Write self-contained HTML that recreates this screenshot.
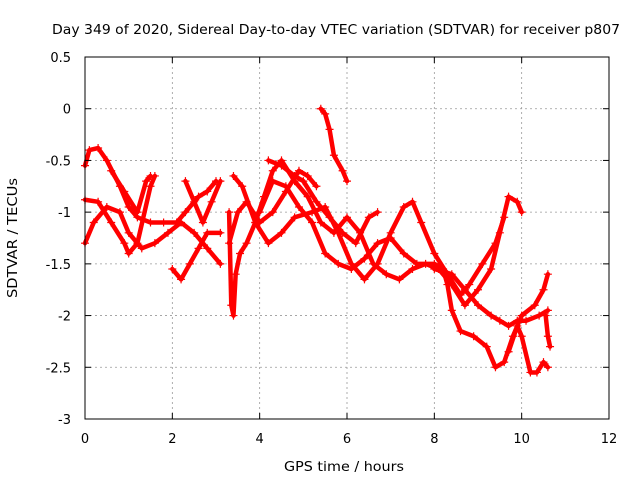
<!DOCTYPE html>
<html><head><meta charset="utf-8"><style>
body{margin:0;background:#fff;}
svg{font-family:"DejaVu Sans","Liberation Sans",sans-serif;font-size:13px;}
</style></head><body>
<svg id="chart" width="640" height="480">
<rect width="640" height="480" fill="#fff"/>
<g id="grid"></g>
<g id="series"></g>
<rect x="85" y="57" width="524" height="362" fill="none" stroke="#000" stroke-width="1"/>
<g id="ticks"></g>
<text x="336" y="34" text-anchor="middle" textLength="568" lengthAdjust="spacingAndGlyphs">Day 349 of 2020, Sidereal Day-to-day VTEC variation (SDTVAR) for receiver p807</text>
<text x="344" y="471" text-anchor="middle" textLength="120" lengthAdjust="spacingAndGlyphs">GPS time / hours</text>
<text x="0" y="0" text-anchor="middle" textLength="120" lengthAdjust="spacingAndGlyphs" transform="translate(17,238) rotate(-90)">SDTVAR / TECUs</text>
</svg>
<script>
const xTicks=[0,2,4,6,8,10,12];
const yTicks=[0.5,0,-0.5,-1,-1.5,-2,-2.5,-3];
const tracks=[
[[0,-0.55],[0.1,-0.4],[0.3,-0.38],[0.5,-0.5],[0.8,-0.75],[1.0,-0.95],[1.2,-1.05],[1.5,-1.1],[1.8,-1.1],[2.1,-1.1],[2.3,-1.0],[2.6,-0.85],[2.8,-0.8],[3.0,-0.7]],
[[0,-1.3],[0.2,-1.1],[0.5,-0.95],[0.8,-1.0],[1.0,-1.2],[1.3,-1.35],[1.6,-1.3],[1.9,-1.2],[2.2,-1.1],[2.5,-1.2],[2.8,-1.35],[3.1,-1.5]],
[[0,-0.88],[0.3,-0.9],[0.6,-1.1],[0.9,-1.3],[1.0,-1.4],[1.2,-1.3],[1.5,-0.75],[1.6,-0.65]],
[[0.6,-0.6],[0.9,-0.8],[1.2,-1.0],[1.4,-0.7],[1.5,-0.65]],
[[2.0,-1.55],[2.2,-1.65],[2.4,-1.5],[2.6,-1.35],[2.8,-1.2],[3.1,-1.2]],
[[2.3,-0.7],[2.5,-0.9],[2.7,-1.1],[2.9,-0.9],[3.1,-0.7]],
[[3.3,-1.0],[3.35,-1.9],[3.4,-2.0],[3.45,-1.6],[3.55,-1.4],[3.7,-1.3],[3.9,-1.1],[4.1,-0.85],[4.3,-0.6],[4.5,-0.5],[4.8,-0.7],[5.1,-0.85],[5.4,-1.1],[5.7,-1.2],[6.0,-1.05],[6.3,-1.2],[6.6,-1.5],[6.9,-1.6],[7.2,-1.65],[7.5,-1.55],[7.8,-1.5],[8.1,-1.55],[8.4,-1.7],[8.7,-1.9],[9.0,-1.75],[9.3,-1.55],[9.5,-1.2],[9.7,-0.85],[9.9,-0.9],[10.0,-1.0]],
[[3.3,-1.3],[3.5,-1.0],[3.7,-0.9],[4.0,-1.1],[4.3,-1.0],[4.6,-0.8],[4.9,-0.6],[5.1,-0.65],[5.3,-0.75]],
[[3.4,-0.65],[3.6,-0.75],[3.9,-1.1],[4.2,-1.3],[4.5,-1.2],[4.8,-1.05],[5.2,-1.0],[5.5,-0.95],[5.8,-1.2],[6.1,-1.5],[6.4,-1.65],[6.7,-1.5],[7.0,-1.2],[7.3,-0.95],[7.5,-0.9],[7.7,-1.1],[8.0,-1.4],[8.3,-1.6],[8.6,-1.8],[8.8,-1.7],[9.1,-1.5],[9.4,-1.3],[9.6,-1.05]],
[[5.4,0.0],[5.5,-0.05],[5.6,-0.2],[5.7,-0.45],[5.9,-0.6],[6.0,-0.7]],
[[4.2,-0.5],[4.5,-0.55],[4.8,-0.65],[5.0,-0.7],[5.3,-0.9],[5.6,-1.05],[5.9,-1.2],[6.2,-1.3],[6.5,-1.05],[6.7,-1.0]],
[[4.0,-1.0],[4.3,-0.7],[4.6,-0.75],[4.9,-0.95],[5.2,-1.1],[5.5,-1.4],[5.8,-1.5],[6.1,-1.55],[6.4,-1.45],[6.7,-1.3],[7.0,-1.25],[7.3,-1.4],[7.6,-1.5],[8.0,-1.5],[8.2,-1.55],[8.3,-1.7],[8.4,-1.95],[8.6,-2.15],[8.9,-2.2],[9.2,-2.3],[9.4,-2.5],[9.6,-2.45],[9.8,-2.2],[10.0,-2.0],[10.3,-1.9],[10.5,-1.75],[10.6,-1.6]],
[[8.0,-1.55],[8.4,-1.6],[8.7,-1.75],[9.0,-1.9],[9.3,-2.0],[9.5,-2.05],[9.7,-2.1],[9.9,-2.05],[10.1,-2.05],[10.4,-2.0],[10.6,-1.95]],
[[9.7,-2.35],[9.9,-2.1],[10.0,-2.2],[10.2,-2.55],[10.35,-2.55],[10.5,-2.45],[10.6,-2.5]],
[[10.55,-2.0],[10.6,-2.2],[10.65,-2.3]]
];
const NS="http://www.w3.org/2000/svg";
const X0=85,X1=609,Y0=419,Y1=57;
function sx(v){return X0+(v-0)/(12-0)*(X1-X0);}
function sy(v){return Y0-(v-(-3))/(0.5-(-3))*(Y0-Y1);}
function mk(tag,attrs,parent){const e=document.createElementNS(NS,tag);for(const k in attrs)e.setAttribute(k,attrs[k]);parent.appendChild(e);return e;}
const grid=document.getElementById('grid'),ticks=document.getElementById('ticks'),series=document.getElementById('series');
xTicks.forEach(t=>{
  const x=sx(t);
  if(t>0&&t<12){const g=mk('line',{x1:x,x2:x,y1:Y0,y2:Y1,stroke:'#999','stroke-dasharray':'2,3','stroke-width':0.8},grid);
  
  }
  mk('line',{x1:x,x2:x,y1:Y0,y2:Y0-6,stroke:'#000'},ticks);
  mk('line',{x1:x,x2:x,y1:Y1,y2:Y1+6,stroke:'#000'},ticks);
  const l=mk('text',{x:x,y:Y0+24,'text-anchor':'middle'},ticks);l.textContent=t;
  
  
});
yTicks.forEach(t=>{
  const y=sy(t);
  if(t<0.5&&t>-3){const g=mk('line',{x1:X0,x2:X1,y1:y,y2:y,stroke:'#999','stroke-dasharray':'2,3','stroke-width':0.8},grid);
  
  }
  mk('line',{x1:X0,x2:X0+6,y1:y,y2:y,stroke:'#000'},ticks);
  mk('line',{x1:X1,x2:X1-6,y1:y,y2:y,stroke:'#000'},ticks);
  const l=mk('text',{x:X0-14,y:y+5,'text-anchor':'end'},ticks);l.textContent=t;
  
  
});
tracks.forEach((tr,i)=>{
  const p=mk('polyline',{points:tr.map(d=>sx(d[0])+','+sy(d[1])).join(' '),fill:'none',stroke:'#f00','stroke-width':4.5,'stroke-linejoin':'round','stroke-linecap':'round'},series);
  
  
  tr.forEach(d=>{
    const x=sx(d[0]),y=sy(d[1]);
    const m=mk('path',{d:`M${x-4},${y}H${x+4}M${x},${y-4}V${y+4}`,stroke:'#f00','stroke-width':1.2},series);
    
    
  });
});
</script>
</body></html>
